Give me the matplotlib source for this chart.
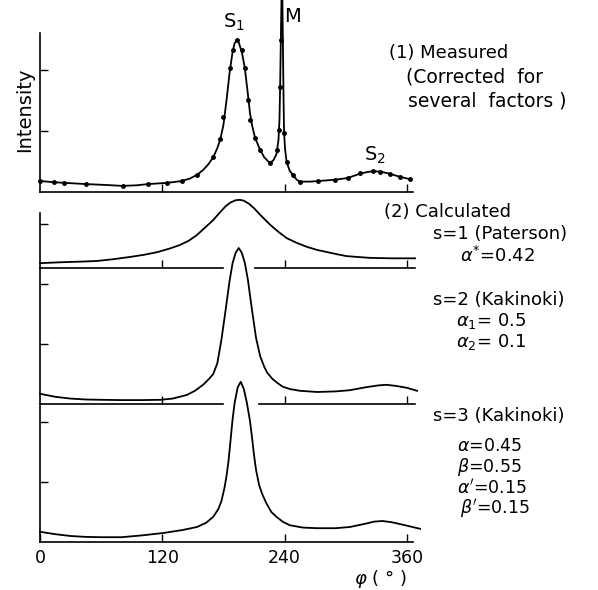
import matplotlib.pyplot as plt

plt.rcParams['font.family'] = ['DejaVu Sans']
plt.rcParams['mathtext.fontset'] = 'dejavusans'

# === DATA ===
# (1) measured, corrected: the dots
phi_dots = [0, 14, 24, 45, 81, 106, 125, 139, 154, 170, 177, 180, 186, 189, 193,
            198, 201, 204, 206, 211, 216, 226, 233, 235, 235.5, 236.4,
            239.4, 242, 248, 255, 273, 289, 302, 314, 327, 334, 343, 353, 363]
int_dots = [0.18, 0.16, 0.15, 0.13, 0.10, 0.13, 0.15, 0.18, 0.28, 0.57, 0.87, 1.23, 2.03, 2.33, 2.49,
            2.33, 2.03, 1.51, 1.18, 0.89, 0.69, 0.48, 0.69, 1.02, 1.72, 2.49,
            0.97, 0.49, 0.28, 0.16, 0.18, 0.20, 0.23, 0.31, 0.34, 0.33, 0.30, 0.25, 0.21]

# (1) measured: the drawn curve through the dots
phi_meas = [0, 14, 24, 45, 65, 81, 95, 106, 125, 139, 147, 154, 160, 165, 170, 174, 177, 180,
            183, 186, 189, 191, 193, 195, 198, 201, 204, 206, 208, 211, 216, 220, 224, 226,
            229, 232, 234, 235, 235.7, 236.3, 237, 237.8, 238.3, 239, 239.5, 240.5, 242, 245,
            248, 252, 255, 265, 273, 289, 302, 314, 322, 327, 334, 343, 353, 363]
int_meas = [0.18, 0.16, 0.15, 0.13, 0.115, 0.10, 0.11, 0.13, 0.15, 0.18, 0.22, 0.28, 0.36, 0.45, 0.57, 0.72, 0.87, 1.1,
            1.5, 1.95, 2.3, 2.44, 2.49, 2.45, 2.3, 2.03, 1.6, 1.3, 1.1, 0.89, 0.69, 0.57, 0.50, 0.48,
            0.52, 0.62, 0.85, 1.2, 1.8, 2.49, 3.2, 3.2, 2.5, 1.5, 0.97, 0.7, 0.49, 0.35,
            0.28, 0.2, 0.17, 0.17, 0.18, 0.20, 0.23, 0.30, 0.33, 0.34, 0.335, 0.30, 0.25, 0.21]

# (2) calculated, s=1 (Paterson)
phi_s1 = [0, 20, 40, 56, 72, 88, 102, 115, 127, 137, 146, 154, 162, 170, 176, 182, 187, 192, 196,
          200, 205, 210, 216, 222, 226, 234, 242, 252, 262, 272, 282, 292, 301, 312, 324, 345, 368]
int_s1 = [0.11, 0.13, 0.145, 0.16, 0.2, 0.25, 0.30, 0.36, 0.44, 0.52, 0.62, 0.75, 0.92, 1.09, 1.25, 1.40, 1.49, 1.54, 1.55,
          1.53, 1.46, 1.36, 1.21, 1.07, 0.98, 0.82, 0.68, 0.57, 0.48, 0.41, 0.36, 0.31, 0.27, 0.25, 0.23, 0.22, 0.22]

# s=2 (Kakinoki)
phi_s2 = [0, 15, 30, 45, 60, 80, 100, 118, 130, 144, 152, 160, 166, 170, 174, 178, 182, 186, 189, 192,
          195, 198, 201, 204, 208, 212, 216, 220, 223, 228, 233, 238, 245, 255, 272, 290, 304, 320,
          332, 340, 350, 360, 370]
int_s2 = [0.17, 0.12, 0.09, 0.075, 0.07, 0.065, 0.065, 0.07, 0.09, 0.15, 0.22, 0.32, 0.42, 0.50, 0.68, 1.07, 1.55, 2.05, 2.35, 2.52,
          2.60, 2.52, 2.35, 2.07, 1.57, 1.10, 0.80, 0.62, 0.52, 0.42, 0.35, 0.29, 0.25, 0.22, 0.20, 0.21, 0.23, 0.28,
          0.31, 0.32, 0.30, 0.27, 0.22]

# s=3 (Kakinoki)
phi_s3 = [0, 15, 30, 45, 60, 80, 100, 121, 140, 154, 163, 170, 175, 178, 181, 183, 185, 187, 189, 191,
          194, 197, 200, 203, 206, 208, 210, 212, 215, 218, 222, 227, 232, 238, 245, 258, 272, 290,
          304, 318, 328, 336, 345, 353, 363, 373]
int_s3 = [0.17, 0.13, 0.10, 0.085, 0.08, 0.08, 0.11, 0.15, 0.20, 0.25, 0.32, 0.42, 0.55, 0.68, 0.90, 1.10, 1.35, 1.70, 2.05, 2.32,
          2.58, 2.67, 2.55, 2.32, 2.02, 1.75, 1.45, 1.2, 0.95, 0.80, 0.65, 0.50, 0.42, 0.34, 0.28, 0.24, 0.23, 0.23,
          0.25, 0.30, 0.34, 0.35, 0.33, 0.30, 0.26, 0.22]

x_ticks = [120, 240, 360]
x_ticklabels = ['0', '120', '240', '360']


def fx(px):
    return px / 598


def fy(py):
    return 1 - py / 590


def panel(top, bottom, ylim, yticks, gap=None):
    ax = fig.add_axes([fx(40), fy(bottom), fx(413 - 40), (bottom - top) / 590])
    ax.set_xlim(0, 366)
    ax.set_ylim(*ylim)
    ax.patch.set_alpha(0)
    for s in ['top', 'right']:
        ax.spines[s].set_visible(False)
    ax.spines['left'].set_linewidth(1.2)
    ax.set_xticks(x_ticks)
    ax.set_yticks(yticks)
    ax.tick_params(direction='in', length=6, width=1.0, labelbottom=False, labelleft=False)
    if gap is not None:
        ax.spines['bottom'].set_visible(False)
        ax.plot([0, gap[0]], [ylim[0]] * 2, color='black', lw=1.2, clip_on=False)
        ax.plot([gap[1], 368], [ylim[0]] * 2, color='black', lw=1.2, clip_on=False)
    else:
        ax.spines['bottom'].set_linewidth(1.2)
    return ax


fig = plt.figure(figsize=(5.98, 5.90), dpi=100)

ax1 = panel(33, 192, (0, 159 / 61), [1, 2])
ax1.plot(phi_meas, int_meas, color='black', lw=1.3, clip_on=False)
ax1.plot(phi_dots, int_dots, 'o', color='black', ms=2.5, clip_on=False)

ax2 = panel(213, 268, (0, 55 / 44), [1], gap=(180, 211))
ax2.plot(phi_s1, int_s1, color='black', lw=1.3, clip_on=False)

ax3 = panel(269, 404, (0, 135 / 60), [1, 2], gap=(180, 215))
ax3.plot(phi_s2, int_s2, color='black', lw=1.3, clip_on=False)

ax4 = panel(406, 542, (0, 136 / 60), [1, 2])
ax4.plot(phi_s3, int_s3, color='black', lw=1.3, clip_on=False)
ax4.set_xticks([0] + x_ticks)
ax4.set_xticklabels(x_ticklabels)
ax4.tick_params(labelbottom=True, labelsize=12.5, pad=5)

# labels
fig.text(fx(25), fy(110), 'Intensity', rotation=90, ha='center', va='center', fontsize=14)
fig.text(fx(380), fy(579), r'$\varphi$ ( ° )', ha='center', va='center', fontsize=13)
fig.text(fx(234), fy(22), r'S$_1$', ha='center', va='center', fontsize=14)
fig.text(fx(292), fy(16), 'M', ha='center', va='center', fontsize=14)
fig.text(fx(375), fy(155), r'S$_2$', ha='center', va='center', fontsize=14)

fs = 13
fig.text(fx(389), fy(53), '(1) Measured', ha='left', va='center', fontsize=fs)
fig.text(fx(406), fy(77), '(Corrected  for', ha='left', va='center', fontsize=fs + 0.5)
fig.text(fx(408), fy(101), 'several  factors )', ha='left', va='center', fontsize=fs + 0.5)
fig.text(fx(384), fy(212), '(2) Calculated', ha='left', va='center', fontsize=fs)
fig.text(fx(433), fy(234), 's=1 (Paterson)', ha='left', va='center', fontsize=fs)
fig.text(fx(460), fy(256), r'$\alpha^{*}$=0.42', ha='left', va='center', fontsize=fs)
fig.text(fx(433), fy(300), 's=2 (Kakinoki)', ha='left', va='center', fontsize=fs)
fig.text(fx(456), fy(321), r'$\alpha_1$= 0.5', ha='left', va='center', fontsize=fs)
fig.text(fx(456), fy(342), r'$\alpha_2$= 0.1', ha='left', va='center', fontsize=fs)
fig.text(fx(433), fy(416), 's=3 (Kakinoki)', ha='left', va='center', fontsize=fs)
fs2 = 12.5
fig.text(fx(457), fy(446), r'$\alpha$=0.45', ha='left', va='center', fontsize=fs2)
fig.text(fx(457), fy(467), r'$\beta$=0.55', ha='left', va='center', fontsize=fs2)
fig.text(fx(457), fy(488), r"$\alpha'$=0.15", ha='left', va='center', fontsize=fs2)
fig.text(fx(460), fy(509), r"$\beta'$=0.15", ha='left', va='center', fontsize=fs2)

plt.savefig('out.png', dpi=100)
